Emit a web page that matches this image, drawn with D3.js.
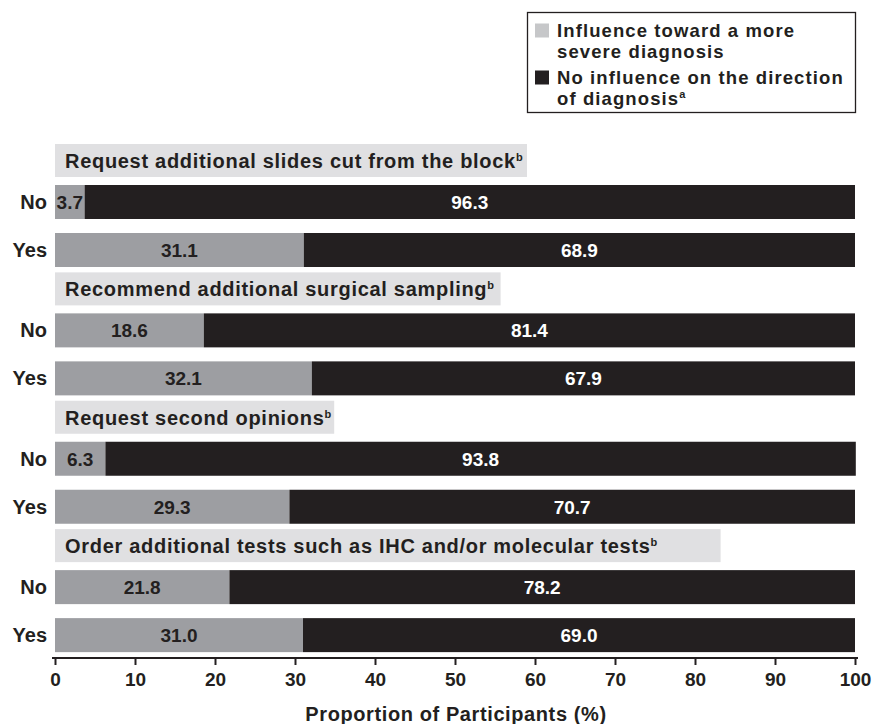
<!DOCTYPE html>
<html><head><meta charset="utf-8">
<script src="https://cdn.jsdelivr.net/npm/d3@7"></script>
<style>
html,body{margin:0;padding:0;background:#fff;}
text{font-family:"Liberation Sans",Arial,Helvetica,sans-serif;font-weight:bold;fill:#231f20;}
</style></head>
<body>
<svg id="chart" width="874" height="724"></svg>
<script>
const groups = [
  "Request additional slides cut from the block",
  "Recommend additional surgical sampling",
  "Request second opinions",
  "Order additional tests such as IHC and/or molecular tests"
];
const answers = ["No", "Yes"];
const severeNo = [3.7, 18.6, 6.3, 21.8];
const severeYes = [31.1, 32.1, 29.3, 31.0];
const noInfluenceNo = [96.3, 81.4, 93.8, 78.2];
const noInfluenceYes = [68.9, 67.9, 70.7, 69.0];
const xTicks = [0,10,20,30,40,50,60,70,80,90,100];
const legendLabels = [["Influence toward a more","severe diagnosis"],["No influence on the direction","of diagnosis"]];
const legendSup = ["", "a"];
const headerSup = "b";
const headerEnds = [59.0, 55.7, 34.9, 83.2]; // header band extent in axis units
const axisTitle = "Proportion of Participants (%)";

const cLight = "#9d9ea2", cDark = "#231f20", cHeader = "#e0e0e2", cLegendLight = "#c6c7c9";

const svg = d3.select("#chart");
const x = d3.scaleLinear().domain([0,100]).range([55,855]);
const y = d3.scaleLinear().domain([0,4]).range([144,657.5]);
const unit = (657.5-144)/4;
const headerH = 33/unit, barH = 34/unit, offNo = 41/unit, offYes = 89/unit;

const rows = [];
groups.forEach((g,i)=>{
  rows.push({g:i, ans:answers[0], a:severeNo[i], b:noInfluenceNo[i], off:offNo});
  rows.push({g:i, ans:answers[1], a:severeYes[i], b:noInfluenceYes[i], off:offYes});
});

// headers
const hdr = svg.append("g");
groups.forEach((g,i)=>{
  hdr.append("rect").attr("x", x(0)).attr("y", y(i)).attr("width", x(headerEnds[i])-x(0))
    .attr("height", y(i+headerH)-y(i)).attr("fill", cHeader);
  const t = hdr.append("text").attr("x", x(0)+10).attr("y", y(i)+24)
    .style("font-size","20px").style("letter-spacing","0.7px");
  t.append("tspan").text(g);
  t.append("tspan").attr("dy",-7).style("font-size","11px").style("letter-spacing","0").text(headerSup);
});

// bars
const bars = svg.append("g");
rows.forEach(r=>{
  const top = y(r.g + r.off), h = y(r.g+r.off+barH)-top;
  bars.append("rect").attr("x", x(0)).attr("y", top).attr("width", x(r.a)-x(0)).attr("height", h).attr("fill", cLight);
  bars.append("rect").attr("x", x(r.a)).attr("y", top).attr("width", x(r.a+r.b)-x(r.a)).attr("height", h).attr("fill", cDark);
  bars.append("text").attr("x", x(r.a/2)).attr("y", top+h/2+7).attr("text-anchor","middle")
    .style("font-size","19px").style("fill", cDark).text(r.a.toFixed(1));
  bars.append("text").attr("x", x(r.a + r.b/2)).attr("y", top+h/2+7).attr("text-anchor","middle")
    .style("font-size","19px").style("fill", "#fff").text(r.b.toFixed(1));
  bars.append("text").attr("x", 47).attr("y", top+h/2+7).attr("text-anchor","end")
    .style("font-size","20px").text(r.ans);
});

// axis
const ax = svg.append("g").attr("transform","translate(0,658)")
  .call(d3.axisBottom(x).tickValues(xTicks).tickSizeOuter(0).tickSize(7).tickPadding(3).tickFormat(d3.format("d")));
ax.select(".domain").attr("stroke", cDark).attr("stroke-width", 2.2).attr("d", `M${x(0)-3},0H${x(100)+3}`);
ax.selectAll(".tick line").attr("stroke", cDark).attr("stroke-width", 2);
ax.selectAll(".tick text").attr("dy", null).attr("y", 28)
  .style("font-weight","bold").style("font-size","19px").attr("fill", cDark);
svg.append("text").attr("x", 456).attr("y", 721).attr("text-anchor","middle")
  .style("font-size","20px").style("letter-spacing","0.6px").text(axisTitle);

// legend
const lg = svg.append("g");
lg.append("rect").attr("x",527.5).attr("y",12.5).attr("width",328).attr("height",100)
  .attr("fill","#fff").attr("stroke",cDark).attr("stroke-width",1.3);
const lgColors = [cLegendLight, cDark];
const lgBase = [[37,58],[84,105]];
legendLabels.forEach((lines,i)=>{
  lg.append("rect").attr("x",535).attr("y",lgBase[i][0]-13.5).attr("width",14).attr("height",14).attr("fill",lgColors[i]);
  lines.forEach((ln,j)=>{
    const t = lg.append("text").attr("x",557).attr("y",lgBase[i][j])
      .style("font-size","18.5px").style("letter-spacing","1.1px");
    t.append("tspan").text(ln);
    if (j===lines.length-1 && legendSup[i]) t.append("tspan").attr("dy",-7).style("font-size","11px").style("letter-spacing","0").text(legendSup[i]);
  });
});
</script>
</body></html>
